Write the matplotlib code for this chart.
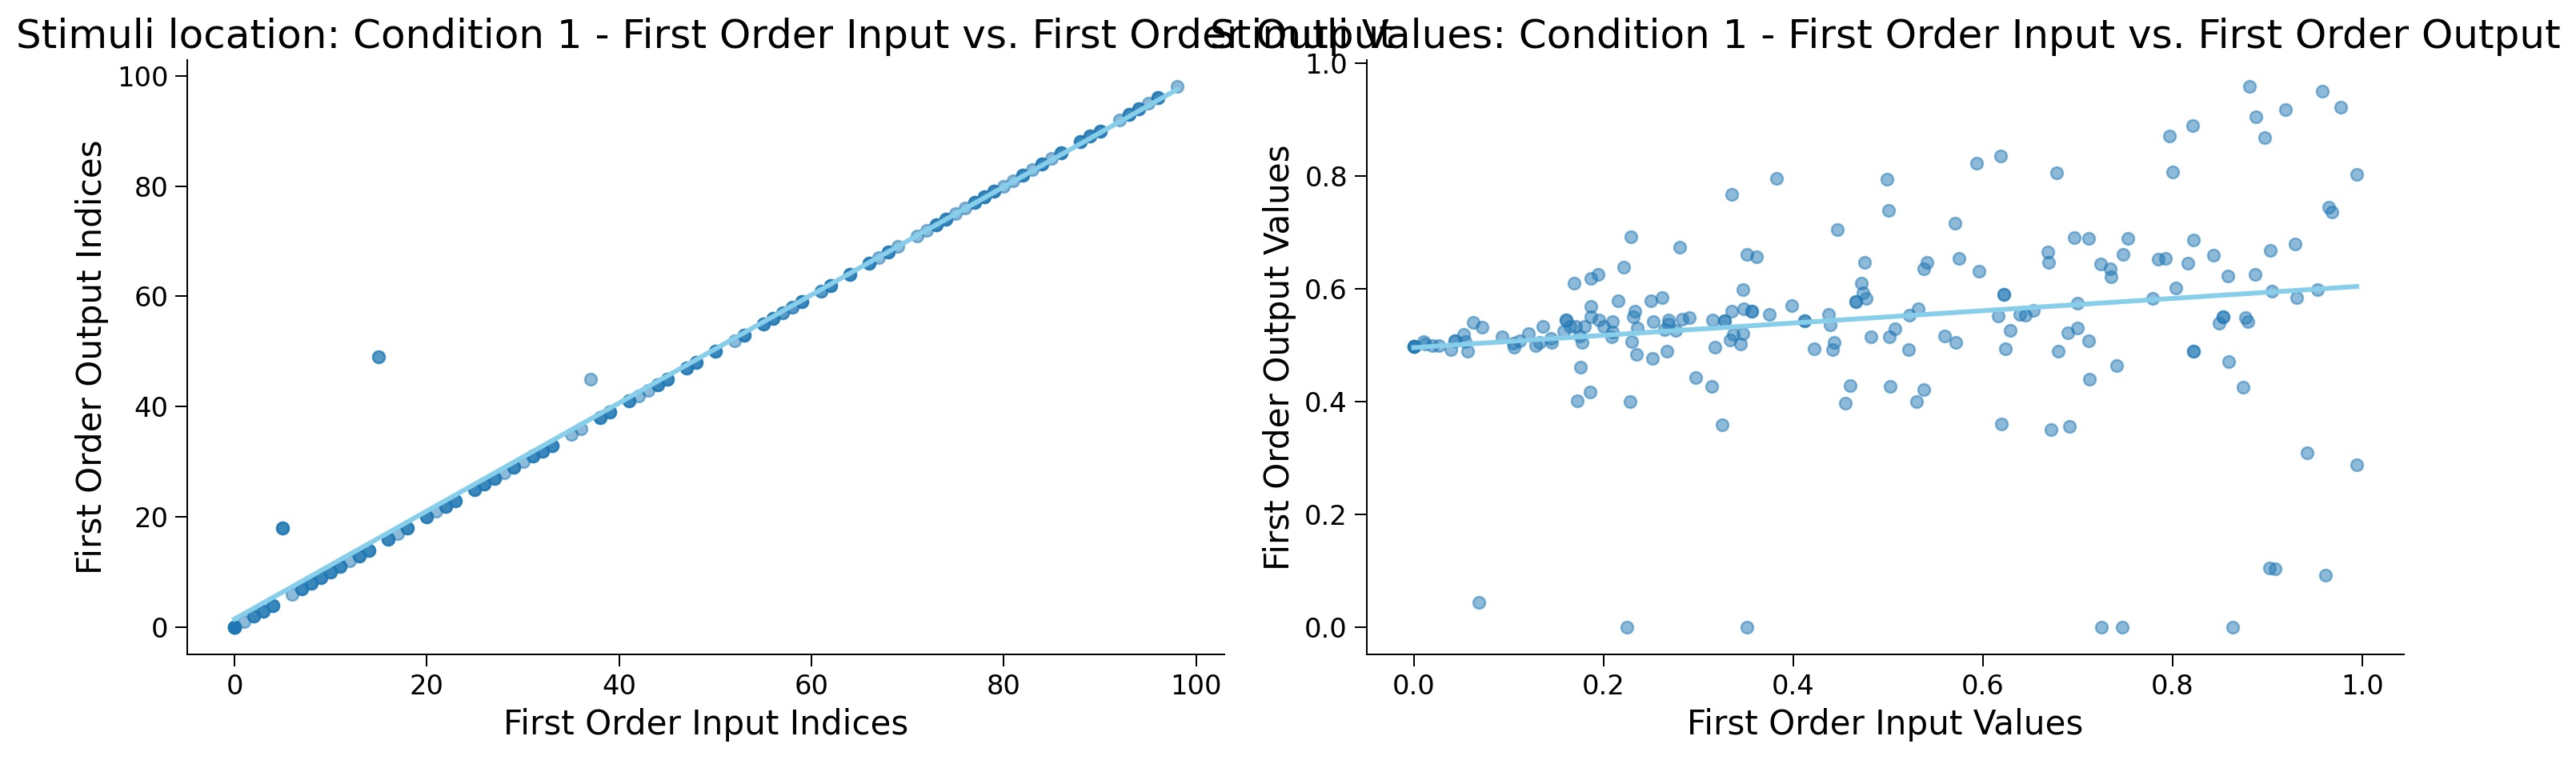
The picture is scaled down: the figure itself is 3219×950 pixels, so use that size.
import numpy as np
import matplotlib
matplotlib.use("Agg")
import matplotlib.pyplot as plt

# ---------------- data ----------------
# Left panel: stimulus location (index) of first-order input vs. output, with repeat counts
loc_input = [0, 1, 2, 3, 4, 6, 7, 8, 9, 10, 11, 12, 13, 14, 16, 17, 18, 20, 21, 22, 23,
             25, 26, 27, 28, 29, 30, 31, 32, 33, 35, 36, 38, 39, 41, 42, 43, 44, 45, 47,
             48, 50, 52, 53, 55, 56, 57, 58, 59, 61, 62, 64, 66, 67, 68, 69, 71, 72, 73,
             74, 75, 76, 77, 78, 79, 80, 81, 82, 83, 84, 85, 86, 88, 89, 90, 92, 93, 94,
             95, 96, 98, 5, 15, 37]
loc_output = [0, 1, 2, 3, 4, 6, 7, 8, 9, 10, 11, 12, 13, 14, 16, 17, 18, 20, 21, 22, 23,
              25, 26, 27, 28, 29, 30, 31, 32, 33, 35, 36, 38, 39, 41, 42, 43, 44, 45, 47,
              48, 50, 52, 53, 55, 56, 57, 58, 59, 61, 62, 64, 66, 67, 68, 69, 71, 72, 73,
              74, 75, 76, 77, 78, 79, 80, 81, 82, 83, 84, 85, 86, 88, 89, 90, 92, 93, 94,
              95, 96, 98, 18, 49, 45]
loc_count = [7, 1, 3, 3, 3, 1, 3, 3, 3, 3, 3, 1, 3, 3, 3, 1, 3, 3, 1, 3, 3,
             3, 3, 3, 1, 3, 1, 3, 3, 3, 1, 1, 3, 3, 3, 1, 1, 3, 3, 3,
             3, 3, 1, 3, 3, 3, 2, 2, 3, 2, 3, 3, 3, 1, 3, 1, 1, 1, 3,
             3, 1, 1, 3, 3, 3, 1, 1, 3, 1, 3, 1, 3, 3, 3, 3, 1, 3, 3,
             1, 3, 1, 3, 2, 1]

# Right panel: first-order input value vs. output value (200 trials)
value_input = [
    0.2287, 0.2808, 0.2211, 0.1947, 0.1865, 0.1688, 0.3350, 0.3823, 0.4987, 0.5004,
    0.4462, 0.5932, 0.6186, 0.6776, 0.5705, 0.3516, 0.3618, 0.4749, 0.5407, 0.5373,
    0.5744, 0.5955, 0.6684, 0.6690, 0.8807, 0.9576, 0.9772, 0.9187, 0.8878, 0.8970,
    0.8211, 0.7966, 0.7997, 0.9941, 0.9643, 0.9679, 0.6959, 0.7114, 0.7525, 0.7474,
    0.7240, 0.7339, 0.7348, 0.7846, 0.7924, 0.8217, 0.8158, 0.8428, 0.8582, 0.8867,
    0.9027, 0.9291, 0.0000, 0.0000, 0.0000, 0.0000, 0.0101, 0.0121, 0.0200, 0.0265,
    0.0391, 0.0434, 0.0434, 0.0523, 0.0546, 0.0565, 0.0628, 0.0723, 0.0689, 0.0934,
    0.1050, 0.1058, 0.1120, 0.1207, 0.1283, 0.1325, 0.1359, 0.1443, 0.1451, 0.1584,
    0.1607, 0.1607, 0.1649, 0.1705, 0.1747, 0.1776, 0.1803, 0.1865, 0.1865, 0.1949,
    0.2000, 0.2099, 0.2093, 0.2084, 0.2152, 0.2332, 0.2316, 0.2360, 0.2295, 0.2352,
    0.2501, 0.2622, 0.2529, 0.2647, 0.2690, 0.2686, 0.2765, 0.2833, 0.2906, 0.2521,
    0.2667, 0.1755, 0.1863, 0.1727, 0.2284, 0.2976, 0.3145, 0.3255, 0.2251, 0.3154,
    0.3173, 0.3280, 0.3280, 0.3468, 0.3356, 0.3477, 0.3561, 0.3561, 0.3753, 0.3989,
    0.3365, 0.3337, 0.3468, 0.3449, 0.4124, 0.4124, 0.4377, 0.4386, 0.4217, 0.4428,
    0.4414, 0.4717, 0.4658, 0.4658, 0.4737, 0.4771, 0.4819, 0.5010, 0.5072, 0.5221,
    0.5314, 0.5213, 0.5595, 0.5713, 0.4597, 0.4546, 0.5019, 0.5381, 0.5300, 0.6220,
    0.6220, 0.6158, 0.6284, 0.6234, 0.6388, 0.6445, 0.6529, 0.6197, 0.6721, 0.3516,
    0.6797, 0.6993, 0.7789, 0.8034, 0.9046, 0.9308, 0.9527, 0.6895, 0.6993, 0.7114,
    0.7407, 0.7120, 0.6909, 0.8487, 0.8532, 0.8532, 0.8765, 0.8791, 0.8223, 0.8223,
    0.8591, 0.8743, 0.9415, 0.9941, 0.9018, 0.9083, 0.9612, 0.7249, 0.7466, 0.8630]
value_output = [
    0.6927, 0.6742, 0.6387, 0.6255, 0.6184, 0.6094, 0.7680, 0.7964, 0.7950, 0.7396,
    0.7055, 0.8234, 0.8348, 0.8050, 0.7169, 0.6610, 0.6563, 0.6463, 0.6468, 0.6359,
    0.6534, 0.6307, 0.6648, 0.6463, 0.9583, 0.9498, 0.9214, 0.9172, 0.9044, 0.8674,
    0.8887, 0.8703, 0.8078, 0.8035, 0.7453, 0.7368, 0.6913, 0.6899, 0.6899, 0.6615,
    0.6435, 0.6354, 0.6212, 0.6520, 0.6544, 0.6865, 0.6458, 0.6591, 0.6226, 0.6260,
    0.6686, 0.6800, 0.4976, 0.4976, 0.4976, 0.4976, 0.5066, 0.5019, 0.4990, 0.5000,
    0.4919, 0.5085, 0.5085, 0.5194, 0.5066, 0.4896, 0.5407, 0.5327, 0.0450, 0.5156,
    0.5038, 0.4967, 0.5075, 0.5203, 0.4990, 0.5052, 0.5336, 0.5123, 0.5052, 0.5256,
    0.5455, 0.5455, 0.5336, 0.5336, 0.5170, 0.5052, 0.5336, 0.5691, 0.5511, 0.5455,
    0.5336, 0.5416, 0.5241, 0.5146, 0.5795, 0.5607, 0.5511, 0.5313, 0.5066, 0.4839,
    0.5786, 0.5848, 0.5416, 0.5274, 0.5455, 0.5384, 0.5265, 0.5464, 0.5493, 0.4768,
    0.4896, 0.4616, 0.4176, 0.4010, 0.4001, 0.4427, 0.4271, 0.3594, 0.0000, 0.5455,
    0.4967, 0.5430, 0.5430, 0.5985, 0.5597, 0.5644, 0.5606, 0.5606, 0.5550, 0.5706,
    0.5194, 0.5100, 0.5203, 0.5028, 0.5430, 0.5430, 0.5550, 0.5369, 0.4943, 0.5052,
    0.4924, 0.6094, 0.5776, 0.5776, 0.5928, 0.5824, 0.5152, 0.5147, 0.5298, 0.5540,
    0.5644, 0.4924, 0.5170, 0.5052, 0.4285, 0.3973, 0.4271, 0.4214, 0.3996, 0.5904,
    0.5904, 0.5526, 0.5265, 0.4934, 0.5550, 0.5540, 0.5620, 0.3603, 0.3504, 0.0000,
    0.4896, 0.5739, 0.5833, 0.6009, 0.5952, 0.5848, 0.5990, 0.5227, 0.5313, 0.5085,
    0.4640, 0.4399, 0.3561, 0.5398, 0.5502, 0.5502, 0.5492, 0.5421, 0.4900, 0.4900,
    0.4711, 0.4257, 0.3092, 0.2884, 0.1051, 0.1037, 0.0923, 0.0000, 0.0000, 0.0000]

titles = ["Stimuli location: Condition 1 - First Order Input vs. First Order Output",
          "Stimuli Values: Condition 1 - First Order Input vs. First Order Output"]
xlabels = ["First Order Input Indices", "First Order Input Values"]
ylabels = ["First Order Output Indices", "First Order Output Values"]

# ---------------- figure ----------------
DPI = 180
fig = plt.figure(figsize=(3219 / DPI, 950 / DPI), dpi=DPI)
ax_left = fig.add_axes([0.07276, 0.1389, 0.40239, 0.7826])
ax_right = fig.add_axes([0.5305, 0.1389, 0.4027, 0.7826])

point_color = "#1f77b4"
line_color = "skyblue"

x_loc = np.repeat(np.array(loc_input, dtype=float), loc_count)
y_loc = np.repeat(np.array(loc_output, dtype=float), loc_count)
x_val = np.array(value_input)
y_val = np.array(value_output)

for ax, x, y, title, xl, yl in [(ax_left, x_loc, y_loc, titles[0], xlabels[0], ylabels[0]),
                                (ax_right, x_val, y_val, titles[1], xlabels[1], ylabels[1])]:
    ax.scatter(x, y, s=36, color=point_color, alpha=0.5, linewidths=1.0)
    slope, intercept = np.polyfit(x, y, 1)
    xs = np.array([x.min(), x.max()])
    ax.plot(xs, intercept + slope * xs, color=line_color, lw=2.4)
    ax.set_title(title, fontsize=20)
    ax.set_xlabel(xl, fontsize=16.8)
    ax.set_ylabel(yl, fontsize=16.8)
    ax.tick_params(axis="both", labelsize=13.5, length=6, width=0.8, direction="out")
    ax.spines["top"].set_visible(False)
    ax.spines["right"].set_visible(False)

ax_left.set_xticks([0, 20, 40, 60, 80, 100])
ax_left.set_yticks([0, 20, 40, 60, 80, 100])
ax_right.set_xticks([0.0, 0.2, 0.4, 0.6, 0.8, 1.0])
ax_right.set_yticks([0.0, 0.2, 0.4, 0.6, 0.8, 1.0])

fig.savefig("out.png", dpi=DPI)
